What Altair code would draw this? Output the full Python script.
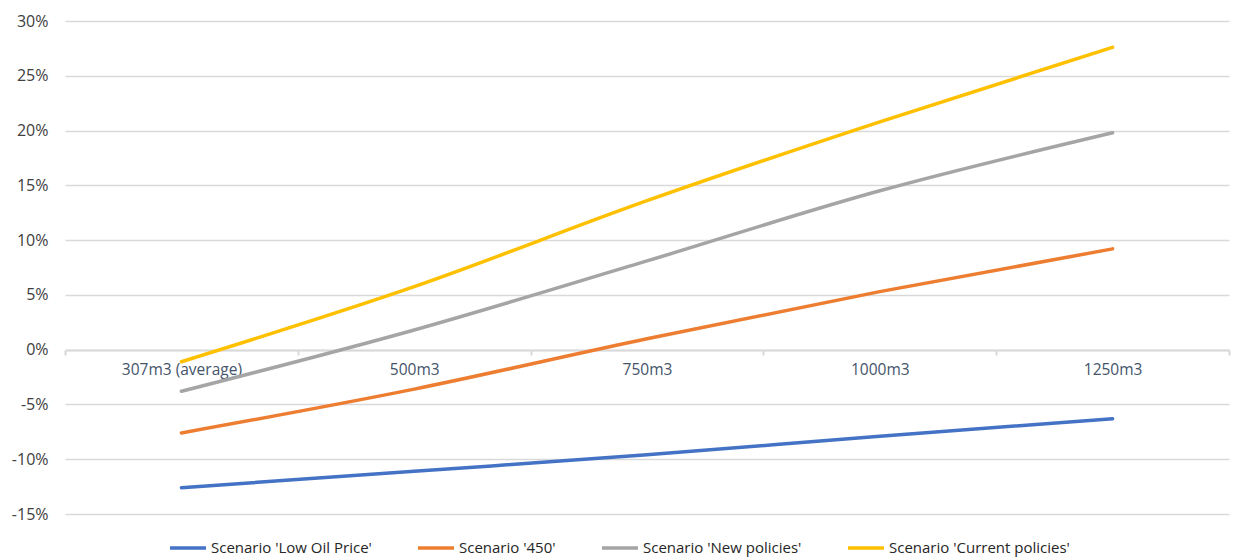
import altair as alt
import pandas as pd

# Storage sizes on the x axis
categories = ["307m3 (average)", "500m3", "750m3", "1000m3", "1250m3"]

# Scenario names, in legend order
scenarios = [
    "Scenario 'Low Oil Price'",
    "Scenario '450'",
    "Scenario 'New policies'",
    "Scenario 'Current policies'",
]
colors = ["#4472C4", "#ED7D31", "#A5A5A5", "#FFC000"]

# Change in percent for each scenario across the storage sizes
low_oil_price = [-12.6, -11.1, -9.6, -7.9, -6.3]
scenario_450 = [-7.6, -3.6, 1.0, 5.3, 9.2]
new_policies = [-3.8, 1.8, 8.1, 14.5, 19.8]
current_policies = [-1.1, 5.75, 13.6, 20.8, 27.6]

series = [low_oil_price, scenario_450, new_policies, current_policies]

rows = []
for name, vals in zip(scenarios, series):
    for cat, v in zip(categories, vals):
        rows.append({"scenario": name, "size": cat, "value": v})
df = pd.DataFrame(rows)

y_ticks = [-15, -10, -5, 0, 5, 10, 15, 20, 25, 30]
font = "Open Sans"

chart = (
    alt.Chart(df)
    .mark_line(strokeWidth=3.5, interpolate="monotone", strokeCap="round")
    .encode(
        x=alt.X(
            "size:N",
            sort=categories,
            title=None,
            scale=alt.Scale(paddingInner=0, paddingOuter=0),
            axis=alt.Axis(
                orient="bottom",
                offset=-164,
                labelAngle=0,
                labelColor="#44546A",
                labelFontSize=15.5,
                labelFont=font,
                labelPadding=7,
                tickBand="extent",
                tickColor="#D9D9D9",
                tickWidth=2,
                tickSize=5,
                domainColor="#D9D9D9",
                domainWidth=2,
                grid=False,
            ),
        ),
        y=alt.Y(
            "value:Q",
            title=None,
            scale=alt.Scale(domain=[-15, 30], nice=False, zero=False),
            axis=alt.Axis(
                values=y_ticks,
                labelExpr="datum.value + '%'",
                labelColor="#404040",
                labelFontSize=16,
                labelFont=font,
                labelPadding=17,
                domain=False,
                ticks=False,
                grid=True,
                gridColor="#D9D9D9",
                gridWidth=1.5,
            ),
        ),
        color=alt.Color(
            "scenario:N",
            sort=scenarios,
            scale=alt.Scale(domain=scenarios, range=colors),
            legend=alt.Legend(
                orient="none",
                legendX=103,
                legendY=507,
                padding=0,
                direction="horizontal",
                title=None,
                symbolType="stroke",
                symbolSize=1300,
                symbolStrokeWidth=3.5,
                labelFontSize=15,
                labelFont=font,
                labelColor="#262626",
                labelOffset=3,
                labelLimit=300,
                columnPadding=38,
            ),
        ),
        detail="scenario:N",
    )
    .properties(
        width=1164,
        height=493,
        padding={"left": 65, "top": 21, "right": 5, "bottom": 45},
        autosize=alt.AutoSizeParams(type="none"),
    )
    .configure(background="white")
    .configure_view(stroke=None)
)

chart.save("out.html", embed_options={"renderer": "svg", "actions": False})
